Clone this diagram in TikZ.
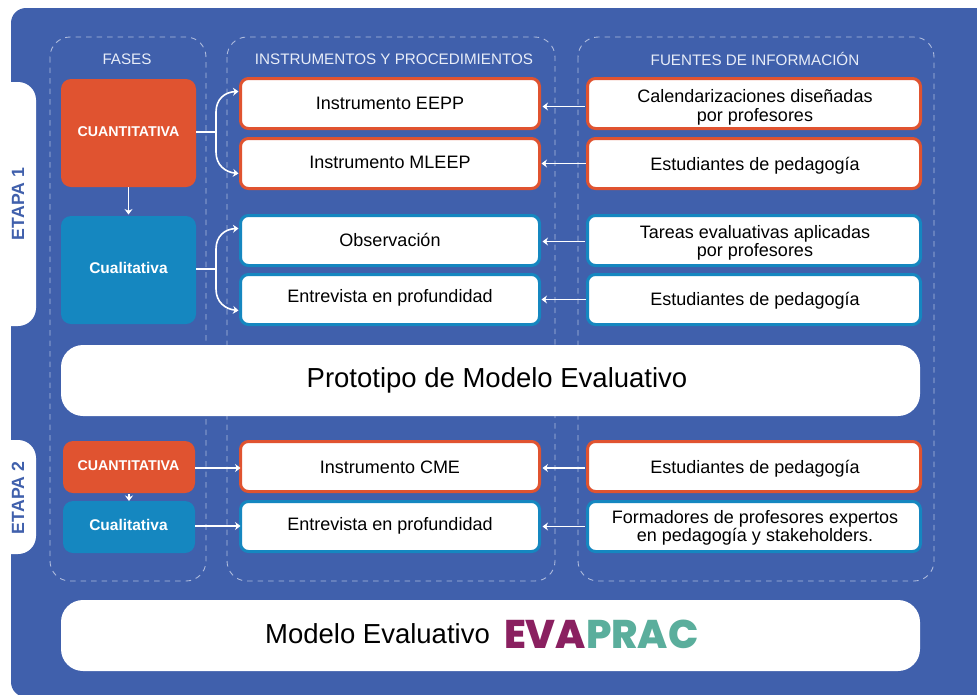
\documentclass[tikz,border=0pt]{standalone}
\usepackage{fontspec}
\setmainfont{Liberation Sans}
\newfontfamily\logofont{Poppins ExtraBold}
\usetikzlibrary{arrows.meta,calc}
\definecolor{bgblue}{HTML}{4060AC}
\definecolor{redx}{HTML}{E05330}
\definecolor{bluex}{HTML}{1587C0}
\definecolor{dashx}{HTML}{AEBBDD}
\definecolor{headx}{HTML}{E8EDF8}
\definecolor{logoa}{HTML}{8A2060}
\definecolor{logob}{HTML}{5AAE9C}
\newcommand\boxtxt[2]{\raisebox{#1}[0pt][0pt]{\begin{tabular}{@{}c@{}}#2\end{tabular}}}
\newcommand\ftxt[2]{\hspace*{2pt}\boxtxt{#1}{#2}}
\tikzset{
  every node/.style={inner sep=0pt,outer sep=0pt},
  panel/.style={draw=dashx,line width=0.9pt,dash pattern=on 5.5pt off 5pt,rounded corners=20pt},
  head/.style={text=headx,font=\fontsize{15.2}{17}\selectfont},
  phase/.style={rounded corners=10pt,minimum width=#1},
  phase/.default=135pt,
  phasetext/.style={text=white,font=\fontsize{#1}{16}\selectfont\bfseries},
  box/.style={draw=#1,fill=white,line width=3pt,rounded corners=8pt,align=center,text=black,
    minimum height=50pt,font=\fontsize{18}{18.5}\selectfont},
  instr/.style={box=#1,minimum width=299pt},
  fuente/.style={box=#1,minimum width=333pt},
  wide/.style={fill=white,rounded corners=22pt,minimum width=859pt,minimum height=71pt},
  bigtext/.style={text=black,font=\fontsize{27.5}{30}\selectfont},
  conn/.style={draw=white,line width=1.6pt,-{Stealth[length=5.5pt,width=8pt]}},
  plain/.style={draw=white,line width=1.6pt},
  etapa/.style={text=bgblue,rotate=90,font=\fontsize{17.7}{20}\selectfont\bfseries}
}
\begin{document}
\begin{tikzpicture}[x=1pt,y=-1pt]
\useasboundingbox (0,0) rectangle (977,694);
\fill[white] (0,0) rectangle (977,694);
\fill[bgblue,rounded corners=15pt] (11,8) rectangle (1000,697);
% stage tabs
\fill[white] (11,82) [rounded corners=18pt] -- (36,82) -- (36,326) [sharp corners] -- (11,326) -- cycle;
\fill[white] (11,440) [rounded corners=18pt] -- (36,440) -- (36,554) [sharp corners] -- (11,554) -- cycle;
\node[etapa] (e1) at (18,204) {ETAPA 1};
\node[etapa] (e2) at (18,498) {ETAPA 2};
% panels
\draw[panel] (50,37) rectangle (206,581);
\draw[panel] (227,37) rectangle (555,581);
\draw[panel] (578,37) rectangle (934,581);
\node[head] (h1) at (127,59) {FASES};
\node[head] (h2) at (394,59) {INSTRUMENTOS Y PROCEDIMIENTOS};
\node[head] (h3) at (755,59) {FUENTES DE INFORMACIÓN};
% phases
\node[phase,fill=redx,minimum height=108pt] (p1) at (128.5,133) {};
\node[phase,fill=bluex,minimum height=108pt] (p2) at (128.5,270) {};
\node[phase=132pt,fill=redx,minimum height=52pt] (p3) at (129,467) {};
\node[phase=132pt,fill=bluex,minimum height=52pt] (p4) at (129,527) {};
\node[phasetext=14.2] (t1) at (128.5,131.5) {CUANTITATIVA};
\node[phasetext=15.5] (t2) at (128.5,267.5) {Cualitativa};
\node[phasetext=14.2] (t3) at (128.5,466) {CUANTITATIVA};
\node[phasetext=15.5] (t4) at (128.5,525) {Cualitativa};
% instruments
\node[instr=redx] (i1) at (390,103.5) {\boxtxt{-6.5pt}{Instrumento EEPP}};
\node[instr=redx] (i2) at (390,163.5) {\boxtxt{-5.5pt}{Instrumento MLEEP}};
\node[instr=bluex] (i3) at (390,240.5) {\boxtxt{-6.5pt}{Observación}};
\node[instr=bluex] (i4) at (390,299.5) {\boxtxt{-3.5pt}{Entrevista en profundidad}};
\node[instr=redx] (i5) at (390,466.5) {\boxtxt{-7.5pt}{Instrumento CME}};
\node[instr=bluex] (i6) at (390,526.5) {\boxtxt{-4.5pt}{Entrevista en profundidad}};
% sources
\node[fuente=redx] (f1) at (754,103.5) {\ftxt{-9pt}{Calendarizaciones diseñadas\\por profesores}};
\node[fuente=redx] (f2) at (754,163.5) {\ftxt{-7.5pt}{Estudiantes de pedagogía}};
\node[fuente=bluex] (f3) at (754,240.5) {\ftxt{-7.5pt}{Tareas evaluativas aplicadas\\por profesores}};
\node[fuente=bluex] (f4) at (754,299.5) {\ftxt{-6.5pt}{Estudiantes de pedagogía}};
\node[fuente=redx] (f5) at (754,466.5) {\ftxt{-7.5pt}{Estudiantes de pedagogía}};
\node[fuente=bluex] (f6) at (754,526.5) {\ftxt{-6.5pt}{Formadores de profesores expertos\\en pedagogía y stakeholders.}};
% wide bars
\node[wide] (w1) at (490.5,380.5) {};
\node[bigtext] (w1t) at (497,380) {Prototipo de Modelo Evaluativo};
\node[wide] (w2) at (490.5,635.5) {};
\node[bigtext] (w2t) at (377.5,634) {Modelo Evaluativo};
\node[anchor=west,font=\logofont\fontsize{40}{44}\selectfont] (logo) at (504,634) {\textcolor{logoa}{EVA}\textcolor{logob}{PRAC}};
% connectors
\coordinate (j1) at (216,132);
\coordinate (j2) at (216,269);
\draw[plain] (p1.east |- j1) -- (j1);
\draw[plain] (p2.east |- j2) -- (j2);
\draw[conn] (j1) -- (216,112) .. controls (216,99) and (225,92) .. ($(i1.west)+(-2,-12)$);
\draw[conn] (j1) -- (216,152) .. controls (216,165) and (225,172) .. ($(i2.west)+(-2,10)$);
\draw[conn] (j2) -- (216,249) .. controls (216,236) and (225,229) .. ($(i3.west)+(-2,-12)$);
\draw[conn] (j2) -- (216,289) .. controls (216,302) and (225,309) .. ($(i4.west)+(-2,11)$);
\draw[conn] (p3.east |- 0,468) -- (i5.west |- 0,468);
\draw[conn] (p4.east |- 0,526) -- (i6.west |- 0,526);
\draw[conn,shorten >=1.5pt] (p1) -- (p2);
\draw[conn,shorten <=1pt] (p3) -- (p4);
\draw[conn,shorten <=2pt,shorten >=2pt] ($(f1.west)+(-1,3)$) -- ($(i1.east)+(1,3)$);
\draw[conn,shorten <=2pt,shorten >=2pt] (f2) -- (i2);
\draw[conn,shorten <=2pt,shorten >=2pt] ($(f3.west)+(-1,1)$) -- ($(i3.east)+(1,1)$);
\draw[conn,shorten <=2pt,shorten >=2pt] (f4) -- (i4);
\draw[conn,shorten <=2pt,shorten >=2pt] ($(f5.west)+(-1,1.5)$) -- ($(i5.east)+(1,1.5)$);
\draw[conn,shorten <=2pt,shorten >=2pt] ($(f6.west)+(-1,0)$) -- ($(i6.east)+(1,0)$);
\end{tikzpicture}
\end{document}
